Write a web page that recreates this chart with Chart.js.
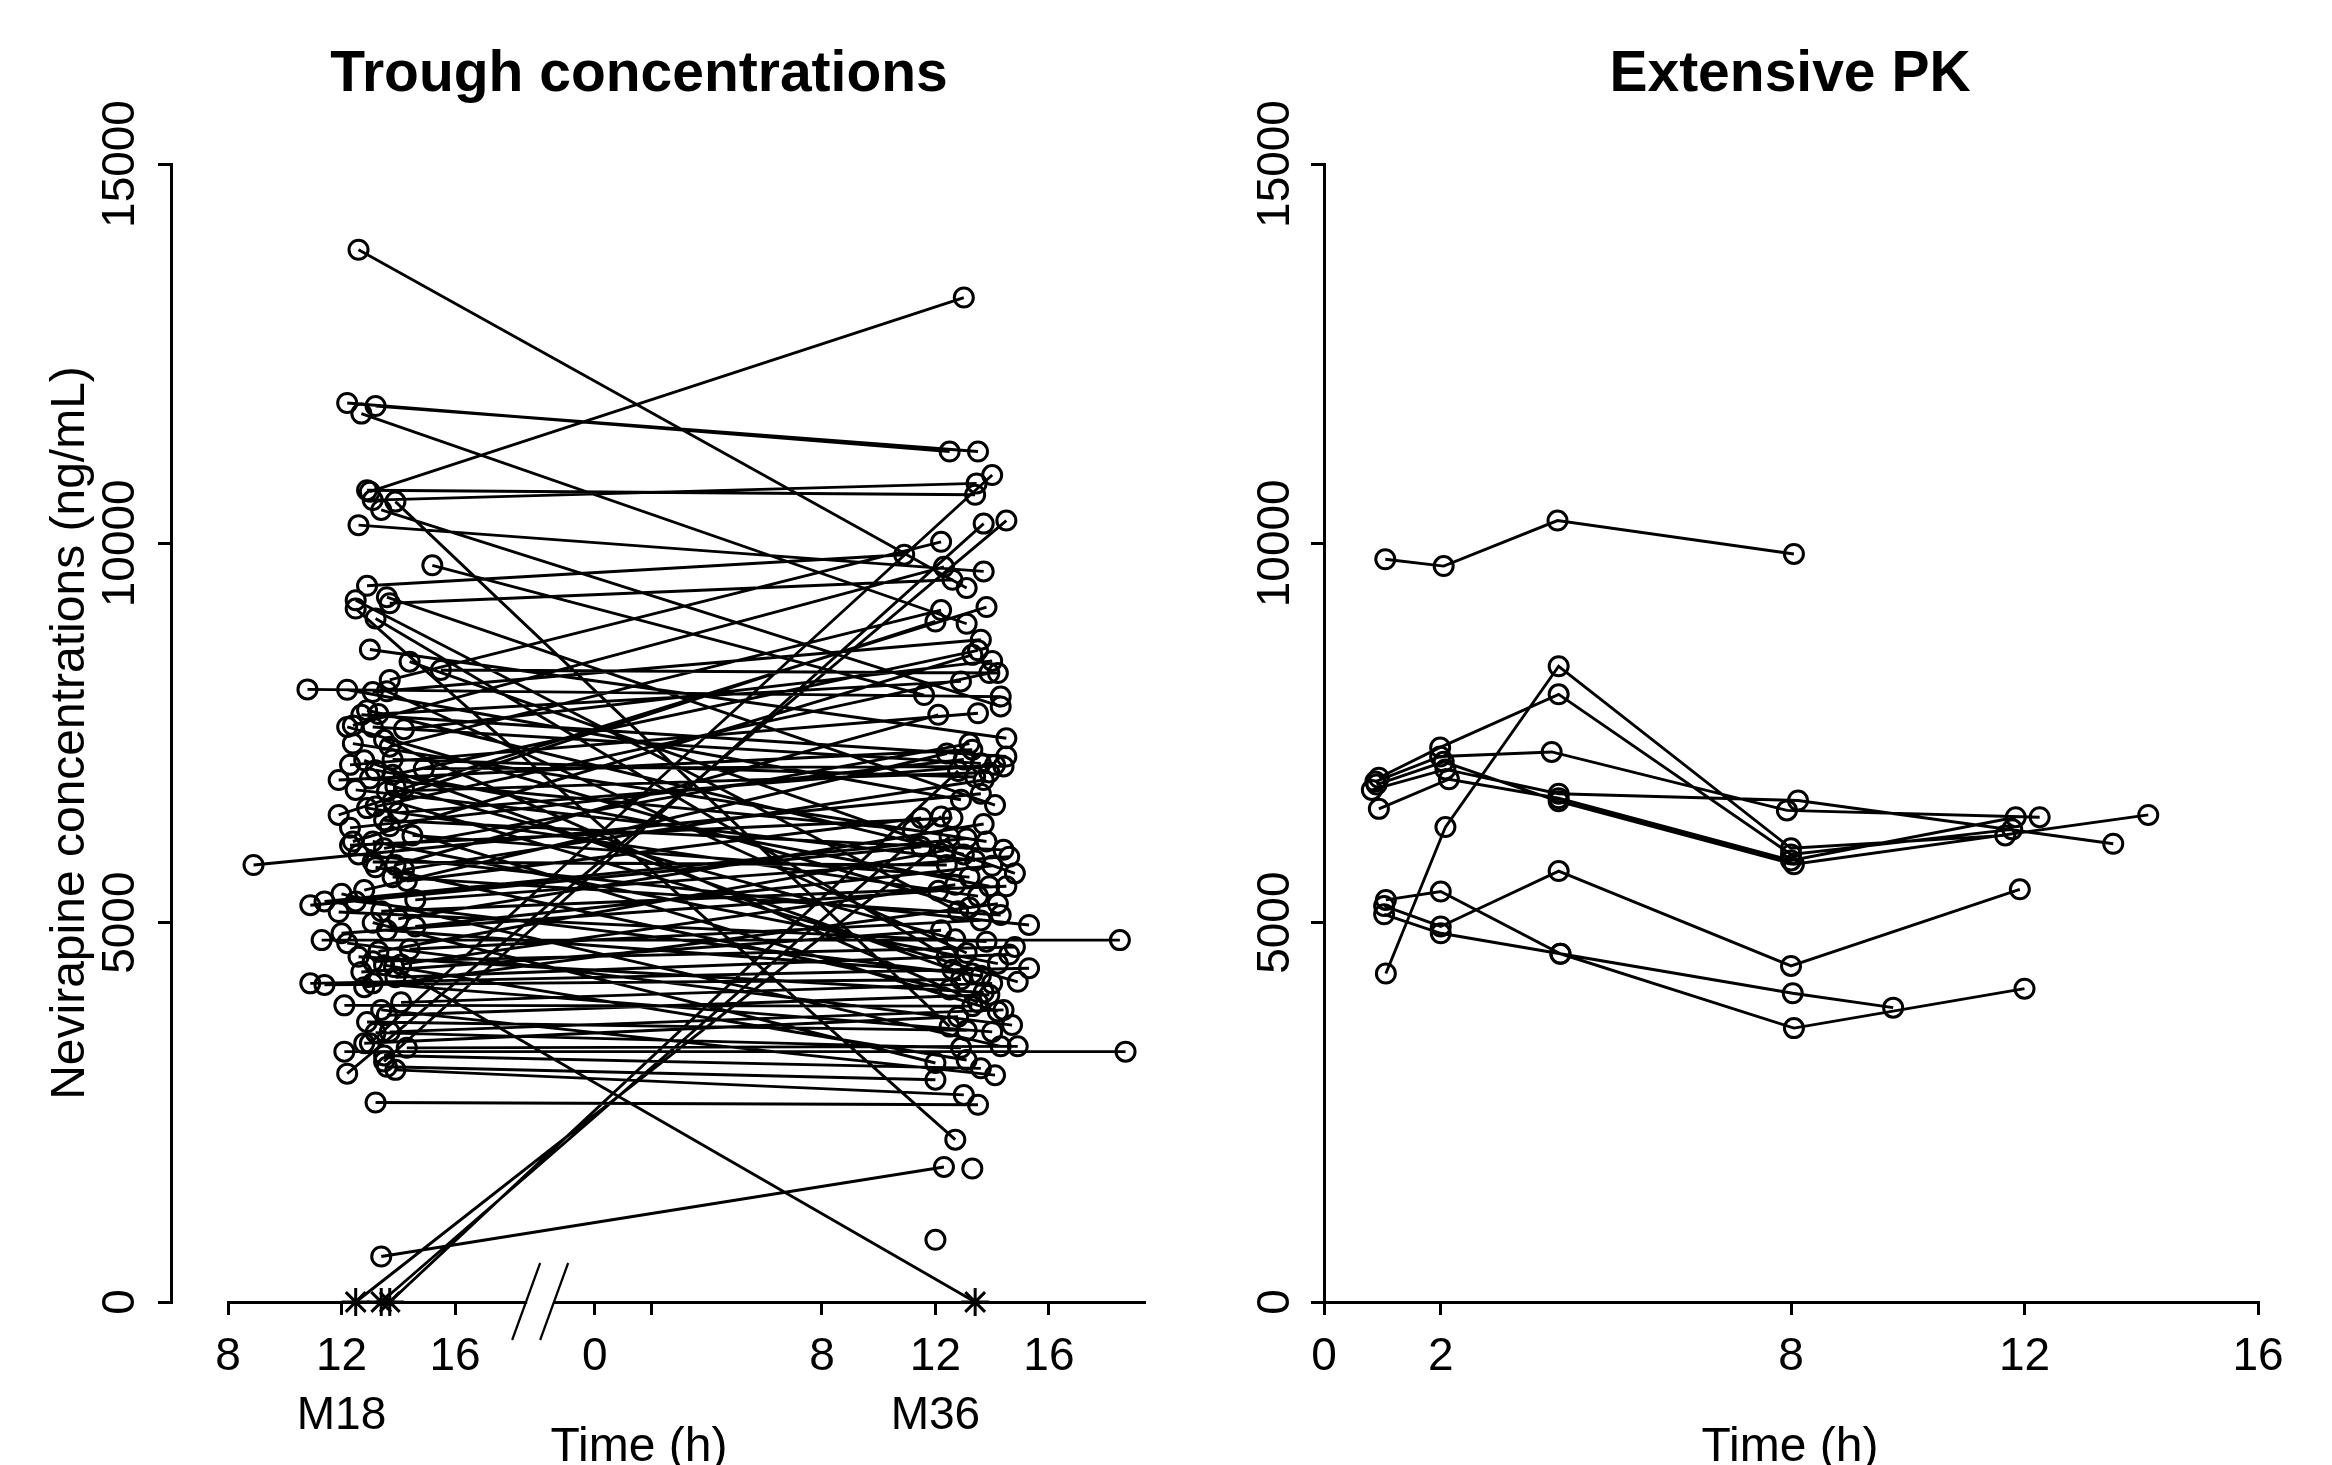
<!DOCTYPE html>
<html>
<head>
<meta charset="utf-8">
<title>Nevirapine concentrations</title>
<script src="https://cdn.jsdelivr.net/npm/chart.js@4.4.1/dist/chart.umd.min.js"></script>
<style>
  html, body { margin: 0; padding: 0; background: #fff; overflow: hidden; width: 2332px; height: 1465px; }
  canvas { position: absolute; top: 0; }
  #trough { left: 0; }
  #pk { left: 1248px; }
</style>
</head>
<body>
<canvas id="trough" width="1278" height="1520"></canvas>
<canvas id="pk" width="1084" height="1520"></canvas>
<script>
const FONT = '"Liberation Sans", Arial, sans-serif';

// ---- Trough samples: clock time (h) and concentration (ng/mL) at M18 and M36, one entry per child ----
const m18Hour = [
  12.6, 12.2, 13.2, 12.7, 13.0, 12.9, 13.1, 13.4, 12.6, 15.2,
  12.9, 13.2, 13.4, 12.5, 13.4, 13.7, 13.85, 8.9, 10.8, 11.3,
  12.1, 12.5, 13.0, 12.2, 13.5, 13.9, 13.2, 12.5, null, null,
  null,
  13.6, 13.7, 13.0, 14.4, 15.5, 13.7, 12.2, 13.6, 13.1, 12.9,
  13.3, 12.7, 12.4, 12.2, 13.1, 14.2, 13.5, 12.4, 13.7, 13.8,
  12.8, 12.3, 14.9, 13.2, 13.8, 13.0, 11.9, 13.9, 14.2, 12.5,
  13.6, 13.8, 13.2, 12.9, 14.0, 11.9, 13.5, 13.7, 12.3, 14.5,
  12.4, 13.1, 12.3, 13.5, 12.6, 13.1, 13.9, 13.2, 14.2, 13.8,
  14.3, 12.8, 12.0, 14.6, 11.4, 12.5, 10.9, 13.4, 11.9, 14.0,
  13.1, 14.6, 13.6, 12.0, 12.2, 14.4, 13.3, 12.6, 13.1, 14.1,
  13.5, 12.7, 13.9, 10.9, 13.1, 11.4, 12.8, 14.1, 12.1, 13.4,
  13.6, 12.9, 13.7, 13.2, 12.8, 14.3, 13.5, 13.6, 13.9
];
const m18Conc = [
  13870, 11850, 11810, 11710, 10680, 10700, 10570, 10440, 10240, 9710,
  9440, 2630, 600, 0, 0, 0, 4415, 5760, 8075, 4770,
  3300, 9140, 3410, 3010, 3170, 10550, 9010, 9250, null, null,
  null,
  9290, 9210, 8600, 8440, 8330, 8200, 8070, 8050, 8040, 7800,
  7750, 7740, 7600, 7580, 7580, 7550, 7410, 7360, 7320, 7150,
  7140, 7080, 7030, 7010, 6950, 6900, 6880, 6790, 6770, 6750,
  6730, 6600, 6530, 6510, 6450, 6420, 6350, 6270, 6250, 6150,
  6070, 6070, 6020, 5980, 5900, 5800, 5760, 5730, 5700, 5600,
  5550, 5430, 5380, 5300, 5280, 5280, 5230, 5150, 5140, 5050,
  5000, 4950, 4900, 4860, 4730, 4650, 4620, 4550, 4490, 4450,
  4440, 4350, 4280, 4200, 4200, 4180, 4150, 3950, 3910, 3850,
  3780, 3690, 3560, 3550, 3410, 3350, 3250, 3100, 3060
];
const m36Hour = [
  13.1, 12.5, 13.5, 13.1, 13.0, 13.4, 13.45, 14.3, 13.7, 11.6,
  10.9, 13.5, 12.3, 12.5, 12.2, 12.8, 13.4, 13.6, 14.3, 18.5,
  18.7, 12.7, 14.0, 14.5, 13.7, 12.5, 12.4, 12.8, 13.1, 13.3,
  12.0,
  14.1, 12.6, 14.5, 14.8, 14.2, 12.2, 12.9, 13.1, 13.6, 13.0,
  12.9, 14.5, 12.3, 13.2, 13.6, 14.0, 13.5, 13.8, 12.2, 13.4,
  12.6, 13.5, 14.4, 13.9, 13.5, 11.2, 13.3, 12.7, 13.8, 13.4,
  13.9, 14.9, 13.9, 13.5, 14.1, 12.0, 14.4, 14.2, 13.0, 13.2,
  13.3, 14.2, 12.6, 13.2, 15.3, 12.4, 12.1, 12.5, 13.7, 14.3,
  11.5, 12.4, 14.3, 14.6, 13.1, 13.6, 11.5, 14.5, 13.8, 13.7,
  12.0, 14.0, 13.3, 12.1, 14.7, 13.6, 12.3, 13.7, 14.8, 12.7,
  13.1, 12.2, 14.6, 15.3, 14.0, 12.9, 14.2, 14.0, 13.3, 14.1,
  13.9, 13.1, 14.4, 12.9, 12.8, 14.9, 13.6, 12.0, 13.0
];
const m36Conc = [
  9410, 11210, 11210, 8940, 13240, 10640, 10790, 7850, 9630, 8000,
  9850, 2600, 1780, 6130, 6400, 7000, 0, 6700, 7980, 4770,
  3300, 2140, 10900, 10300, 10260, 3630, 4550, 5150, 15400, 1760,
  820,
  6550, 9520, 7430, 5650, 8290, 10020, 6620, 4600, 8730, 5900,
  8180, 7190, 9690, 5200, 7100, 8450, 3950, 6070, 9120, 6920,
  4380, 7760, 7060, 5480, 8590, 6220, 7280, 4780, 9160, 5820,
  6980, 4220, 8290, 5350, 7080, 8970, 5960, 3830, 7150, 5600,
  8530, 4460, 6380, 7360, 4970, 5760, 7740, 4120, 6880, 5100,
  6380, 7230, 3370, 5870, 6110, 4300, 6000, 5480, 4750, 6300,
  3150, 5750, 4330, 5420, 3650, 5030, 5950, 4080, 4680, 5500,
  3190, 4900, 4580, 4400, 3560, 4250, 5250, 4200, 3900, 2990,
  4050, 3580, 3850, 3350, 3760, 3370, 3080, 2930, 2730
];

// ---- Extensive PK profiles: sampling time (h) and concentration (ng/mL) per child ----
const pkHours = [
  [1.05, 2.05, 4.0, 8.05],
  [0.94, 1.99, 4.02, 8.0, 11.79],
  [1.06, 2.08, 4.02, 8.0, 11.67],
  [0.88, 1.99, 3.9, 7.93, 12.26],
  [0.82, 2.08, 4.02, 8.12, 13.52],
  [0.94, 2.14, 4.02, 8.0, 11.85],
  [0.9, 2.05, 4.02, 8.05, 14.12],
  [1.06, 2.0, 4.05, 8.03, 9.75],
  [1.03, 2.0, 4.02, 8.0, 11.92],
  [1.03, 2.0, 4.05, 8.05, 12.0]
];
const pkConc = [
  [9790, 9700, 10300, 9860],
  [6910, 7310, 8010, 5900, 6230],
  [4330, 6260, 8380, 5980, 6150],
  [6860, 7190, 7250, 6480, 6390],
  [6750, 7020, 6700, 6610, 6040],
  [6500, 6890, 6640, 5820, 6390],
  [6820, 7120, 6600, 5770, 6420],
  [5300, 5410, 4590, 4070, 3880],
  [5220, 4950, 5680, 4430, 5440],
  [5110, 4860, 4590, 3610, 4130]
];

// ---- Axis ticks ----
const concTicks = [0, 5000, 10000, 15000];
const m18TickHours = [8, 12, 16];
const m36TickHours = [0, 2, 8, 12, 16];
const m36UnlabelledHour = 2;
const visitTickHour = 12;
const visitNames = ['M18', 'M36'];
const pkTickHours = [0, 2, 8, 12, 16];

// M36 clock times sit to the right of M18 on one shared axis
const M36_SHIFT = 20.93;
const TROUGH_X_MIN = 8;
const TROUGH_X_MAX = 40.28;
const BREAK_AT = 19.0;

Chart.defaults.font.family = FONT;
Chart.defaults.color = '#000';

const TICK_FONT = { family: FONT, size: 46, lineHeight: 1.3 };
const LABEL_FONT = { family: FONT, size: 48, lineHeight: 1.2 };
const TITLE_FONT = { family: FONT, size: 57, weight: 'bold', lineHeight: 1.2 };
const AXIS_W = 3;
const TICK_LEN = 13;

// offset of the rotated y labels so their centre sits a fixed distance left of the axis
function yLabelPadding(distance) {
  const c = document.createElement('canvas').getContext('2d');
  c.font = `${TICK_FONT.size}px ${FONT}`;
  const w = c.measureText('15000').width;
  return distance - TICK_LEN - w / 2;
}

const axisLook = {
  grid: { display: true, drawOnChartArea: false, drawTicks: true, tickLength: TICK_LEN, color: '#000', lineWidth: AXIS_W },
  border: { display: true, color: '#000', width: AXIS_W }
};

function fixed(size, horizontal) {
  return horizontal ? s => { s.height = size; } : s => { s.width = size; };
}

function spacer(position, width) {
  return {
    type: 'linear', position, display: true, weight: 0,
    ticks: { display: false }, grid: { display: false }, border: { display: false },
    afterFit: fixed(width, false)
  };
}

function concAxis(width, distance, withTitle) {
  return {
    type: 'linear', position: 'left', min: 0, max: 15000, weight: 1,
    afterBuildTicks: s => { s.ticks = concTicks.map(v => ({ value: v })); },
    ticks: {
      font: TICK_FONT, color: '#000', autoSkip: false,
      minRotation: 90, maxRotation: 90, crossAlign: 'center',
      padding: yLabelPadding(distance),
      callback: v => String(v)
    },
    ...axisLook,
    title: {
      display: withTitle, text: 'Nevirapine concentrations (ng/mL)',
      font: LABEL_FONT, color: '#000', padding: { top: 42, bottom: 0 }
    },
    afterFit: fixed(width, false)
  };
}

// below-limit samples (0 ng/mL) are drawn as asterisks, the rest as open circles
function markerStyle(ctx) {
  return ctx.raw && ctx.raw.y === 0 ? 'star' : 'circle';
}
function markerRadius(ctx) {
  return ctx.raw && ctx.raw.y === 0 ? 14 : 9.5;
}

const profileStyle = {
  borderColor: '#000', borderWidth: 2.9, tension: 0, fill: false, spanGaps: false,
  pointStyle: markerStyle, pointRadius: markerRadius, pointHoverRadius: markerRadius,
  pointBorderColor: '#000', pointBorderWidth: 3, pointBackgroundColor: 'rgba(0,0,0,0)',
  clip: false, xAxisID: 'x', yAxisID: 'y'
};

// x-axis box holds two label lines (hour, visit); the "Time (h)" line sits just below it
const X_AXIS_H = 140;
function panelTitles(text) {
  return {
    legend: { display: false },
    tooltip: { enabled: false },
    title: { display: true, text, font: TITLE_FONT, color: '#000', padding: { top: 41, bottom: 54.6 } },
    subtitle: { display: true, position: 'bottom', text: 'Time (h)', font: LABEL_FONT, color: '#000', padding: { top: -23, bottom: 43.4 } }
  };
}

// ---- Trough panel ----
const troughPoints = [];
for (let i = 0; i < m36Conc.length; i++) {
  if (m18Conc[i] !== null) troughPoints.push({ x: m18Hour[i], y: m18Conc[i] });
  if (m36Conc[i] !== null) troughPoints.push({ x: m36Hour[i] + M36_SHIFT, y: m36Conc[i] });
  troughPoints.push({ x: null, y: null });
}

const troughTickValues = m18TickHours.concat(m36TickHours.map(h => h + M36_SHIFT));
const troughTickLabels = m18TickHours
  .map(h => (h === visitTickHour ? [String(h), visitNames[0]] : String(h)))
  .concat(m36TickHours.map(h => {
    if (h === m36UnlabelledHour) return '';
    return h === visitTickHour ? [String(h), visitNames[1]] : String(h);
  }));

// "//" mark where the time axis jumps from M18 to M36
const axisBreak = {
  id: 'axisBreak',
  afterDraw(chart) {
    const { ctx, scales } = chart;
    const cx = scales.x.getPixelForValue(BREAK_AT);
    const cy = scales.y.getPixelForValue(0);
    ctx.save();
    ctx.fillStyle = '#fff';
    ctx.fillRect(cx - 13, cy - 3, 26, 6);
    ctx.strokeStyle = '#000';
    ctx.lineWidth = 2.2;
    [-14, 14].forEach(dx => {
      ctx.beginPath();
      ctx.moveTo(cx + dx + 14, cy - 39);
      ctx.lineTo(cx + dx - 14, cy + 38);
      ctx.stroke();
    });
    ctx.restore();
  }
};

new Chart(document.getElementById('trough'), {
  type: 'line',
  data: { datasets: [{ label: 'Trough', data: troughPoints, ...profileStyle }] },
  options: {
    responsive: false, maintainAspectRatio: false, animation: false, devicePixelRatio: 1, events: [],
    layout: { padding: 0 },
    plugins: panelTitles('Trough concentrations'),
    scales: {
      x: {
        type: 'linear', position: 'bottom', min: TROUGH_X_MIN, max: TROUGH_X_MAX,
        afterBuildTicks: s => { s.ticks = troughTickValues.map(v => ({ value: v })); },
        ticks: { font: TICK_FONT, color: '#000', autoSkip: false, maxRotation: 0, padding: 12,
                 callback: (v, i) => troughTickLabels[i] },
        ...axisLook,
        afterFit: fixed(X_AXIS_H, true)
      },
      y: concAxis(171, 50, true),
      yGap: spacer('left', 57),
      yRight: spacer('right', 134)
    }
  },
  plugins: [axisBreak]
});

// ---- Extensive PK panel ----
const pkPoints = [];
pkHours.forEach((hours, i) => {
  hours.forEach((h, j) => pkPoints.push({ x: h, y: pkConc[i][j] }));
  pkPoints.push({ x: null, y: null });
});

new Chart(document.getElementById('pk'), {
  type: 'line',
  data: { datasets: [{ label: 'Extensive PK', data: pkPoints, ...profileStyle }] },
  options: {
    responsive: false, maintainAspectRatio: false, animation: false, devicePixelRatio: 1, events: [],
    layout: { padding: 0 },
    plugins: panelTitles('Extensive PK'),
    scales: {
      x: {
        type: 'linear', position: 'bottom', min: 0, max: 16,
        afterBuildTicks: s => { s.ticks = pkTickHours.map(v => ({ value: v })); },
        ticks: { font: TICK_FONT, color: '#000', autoSkip: false, maxRotation: 0, padding: 12,
                 callback: v => String(v) },
        ...axisLook,
        afterFit: fixed(X_AXIS_H, true)
      },
      y: concAxis(76, 48, false),
      yRight: spacer('right', 74)
    }
  }
});
</script>
</body>
</html>
